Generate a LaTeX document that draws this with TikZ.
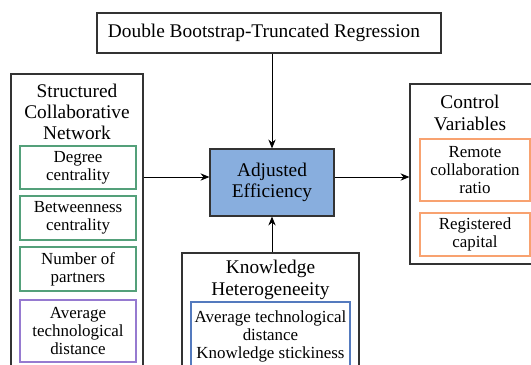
\documentclass[tikz,border=0pt]{standalone}
\usepackage{fontspec}
\setmainfont{Liberation Serif}
\usetikzlibrary{arrows.meta}
\definecolor{efffill}{RGB}{136,174,222}
\definecolor{netgreen}{RGB}{84,160,122}
\definecolor{distpurple}{RGB}{150,122,208}
\definecolor{ctrlorange}{RGB}{248,162,112}
\definecolor{knowblue}{RGB}{84,122,190}
\newcommand\unitpx{0.62pt}
\begin{document}
\begin{tikzpicture}[x=0.62pt,y=-0.62pt,
    frame/.style={draw=black!80,line width=0.7pt,inner sep=0pt},
    item/.style={draw,line width=0.7pt,align=center,font=\fontsize{10.5}{11}\selectfont,inner sep=0pt},
    title/.style={align=center,font=\fontsize{12}{13.2}\selectfont},
    arr/.style={-{Stealth[length=5.5pt,width=4.5pt]},line width=0.6pt}]
    \useasboundingbox (0,0) rectangle (531,365);
    \clip (0,0) rectangle (531,365);
    % Regression box on top
    \node[frame,title,minimum width={344*\unitpx},minimum height={40*\unitpx}] (dbtr) at (269,33) {\hspace*{-6.2pt}Double Bootstrap-Truncated Regression};
    % Adjusted efficiency in the middle
    \node[frame,title,fill=efffill,minimum width={124*\unitpx},minimum height={67*\unitpx}] (eff) at (272,182.5) {Adjusted\\Efficiency};
    % Structured collaborative network
    \node[frame,minimum width={132*\unitpx},minimum height={346*\unitpx}] (scn) at (77,247) {};
    \node[title] (scntitle) at (77,112) {Structured\\Collaborative\\Network};
    \node[item,draw=netgreen,minimum width={116*\unitpx},minimum height={43*\unitpx}] (deg) at (78,167.5) {Degree\\centrality};
    \node[item,draw=netgreen,minimum width={116*\unitpx},minimum height={44*\unitpx}] (btw) at (78,218) {Betweenness\\centrality};
    \node[item,draw=netgreen,minimum width={116*\unitpx},minimum height={44*\unitpx}] (nop) at (78,269) {Number of\\partners};
    \node[item,draw=distpurple,minimum width={116*\unitpx},minimum height={62*\unitpx}] (atd) at (78,331) {Average\\technological\\distance};
    % Control variables
    \node[frame,minimum width={150*\unitpx},minimum height={180*\unitpx}] (ctrl) at (485,174) {};
    \node[title] (ctrltitle) at (470,113) {Control\\Variables};
    \node[item,draw=ctrlorange,minimum width={110*\unitpx},minimum height={62*\unitpx}] (rcr) at (475,170) {Remote\\collaboration\\ratio};
    \node[item,draw=ctrlorange,minimum width={110*\unitpx},minimum height={43*\unitpx}] (regcap) at (475,234.5) {Registered\\capital};
    % Knowledge heterogeneity
    \node[frame,minimum width={177*\unitpx},minimum height={167*\unitpx}] (kh) at (270.5,336.5) {};
    \node[title] (khtitle) at (270.5,280) {Knowledge\\Heterogeneeity};
    \node[item,draw=knowblue,minimum width={159*\unitpx},minimum height={98*\unitpx}] (khbox) at (270.5,351) {};
    \node[item,draw=none,anchor=north,font=\fontsize{10.5}{11.2}\selectfont] (khtext) at (270.5,310) {Average technological\\distance\\Knowledge stickiness};
    % Arrows
    \draw[arr] (dbtr.south -| eff.north) -- (eff.north);
    \draw[arr] ([yshift=3.4pt]scn.east |- eff.west) -- ([yshift=3.4pt]eff.west);
    \draw[arr] ([yshift=3.4pt]eff.east) -- ([yshift=3.4pt]ctrl.west |- eff.east);
    \draw[arr] (kh.north -| eff.south) -- (eff.south);
\end{tikzpicture}
\end{document}
